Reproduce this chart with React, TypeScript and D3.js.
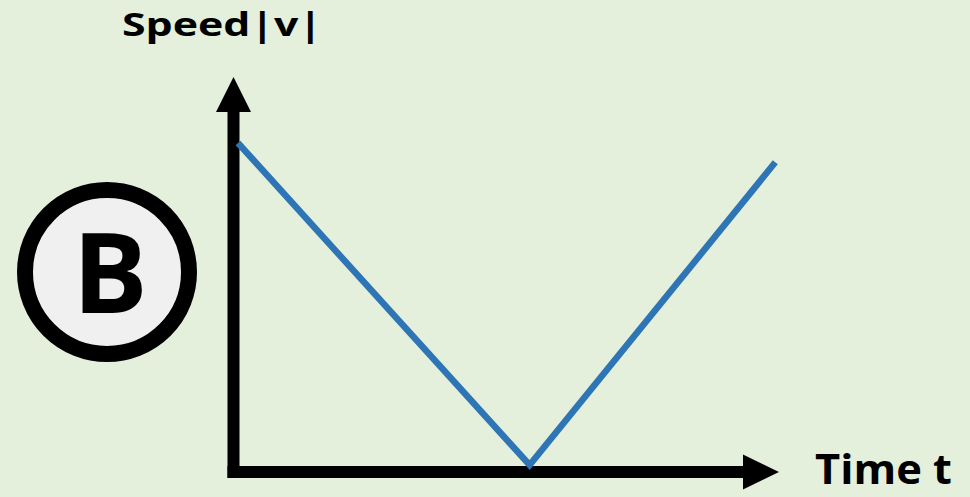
import React from 'react';
import * as d3 from 'd3';

// time values (arbitrary units) and speed |v|
const times = [0, 5.4, 9.95];
const speeds = [10, 0, 9.4];
const yLabel = 'Speed|v|';
const xLabel = 'Time t';
const badge = 'B';

const W = 970;
const H = 497;
const FONT = '"Open Sans", "Liberation Sans", sans-serif';

export default function App() {
  const x = d3.scaleLinear().domain([0, 10]).range([238, 778]);
  const y = d3.scaleLinear().domain([0, 10]).range([465, 143]);

  const data = times.map((t, i) => ({ t, v: speeds[i] }));
  const line = d3.line<{ t: number; v: number }>()
    .x(d => x(d.t))
    .y(d => y(d.v));

  const axisX = x(0) - 4.5; // centre of vertical axis bar
  const axisY = y(0) + 7; // centre of horizontal axis bar

  return (
    <svg
      width={W}
      height={H}
      style={{ position: 'absolute', left: 0, top: 0, display: 'block' }}
    >
      <rect width={W} height={H} fill="#e4efdc" />

      {/* badge */}
      <circle cx={107} cy={272} r={82} fill="#f0f0f0" stroke="#000" strokeWidth={16} />
      <text
        x={110}
        y={313}
        textAnchor="middle"
        fontFamily={FONT}
        fontWeight="bold"
        fontSize={112}
        fill="#000"
      >
        {badge}
      </text>

      {/* axes */}
      <line x1={axisX} y1={axisY + 6} x2={axisX} y2={112} stroke="#000" strokeWidth={12} />
      <polygon
        points={`${axisX - 17.5},112 ${axisX + 17.5},112 ${axisX},77`}
        fill="#000"
      />
      <line x1={axisX - 6} y1={axisY} x2={743} y2={axisY} stroke="#000" strokeWidth={12} />
      <polygon
        points={`743,${axisY - 17.5} 743,${axisY + 17.5} 779,${axisY}`}
        fill="#000"
      />

      {/* speed line */}
      <path
        d={line(data) || ''}
        fill="none"
        stroke="#2e75b6"
        strokeWidth={6.5}
        strokeLinejoin="miter"
      />

      {/* labels */}
      <text
        x={122}
        y={36}
        fontFamily={FONT}
        fontWeight="bold"
        fontSize={33}
        textLength={200}
        lengthAdjust="spacingAndGlyphs"
        fill="#000"
      >
        {yLabel}
      </text>
      <text
        x={815}
        y={484}
        fontFamily={FONT}
        fontWeight="bold"
        fontSize={42}
        textLength={137}
        lengthAdjust="spacingAndGlyphs"
        fill="#000"
      >
        {xLabel}
      </text>
    </svg>
  );
}
